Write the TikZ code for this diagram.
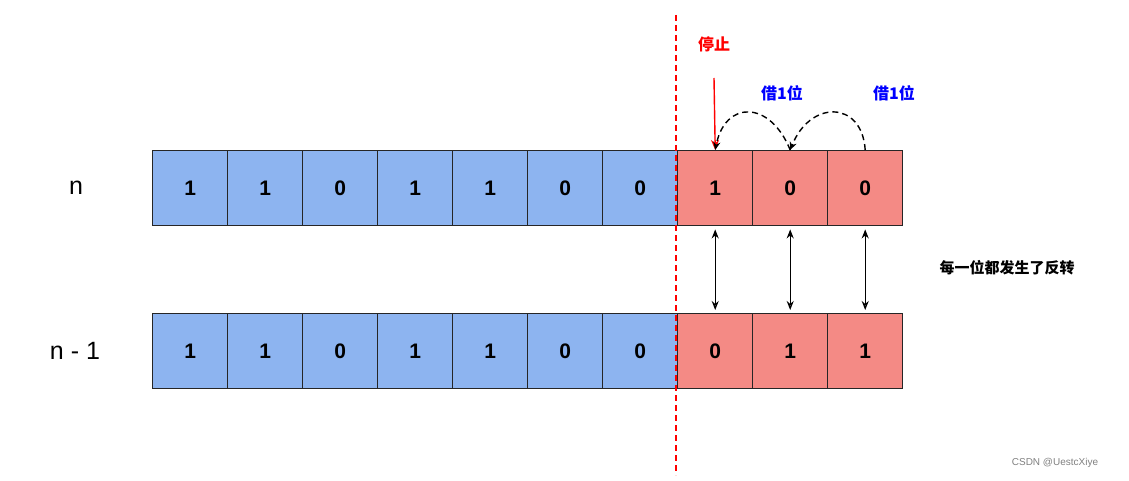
\documentclass[tikz,border=0pt]{standalone}
\usepackage{fontspec}
\setmainfont{Liberation Sans}
\newfontfamily\cjk{Noto Sans CJK SC}
\usetikzlibrary{arrows.meta}
\definecolor{cblue}{HTML}{8DB4F0}
\definecolor{cred}{HTML}{F48A85}
\begin{document}
\begin{tikzpicture}[x=1pt,y=-1pt,
  cell/.style={draw=black!85,line width=1.4pt,minimum width=75pt,minimum height=75pt,inner sep=0pt,font=\fontsize{21}{21}\selectfont\bfseries,anchor=north west},
  cjkl/.style={font=\cjk\bfseries\fontsize{16}{16}\selectfont},
  dbl/.style={line width=1.2pt,{Stealth[length=9pt,width=7pt]}-{Stealth[open,length=9pt,width=7pt]}}]
\useasboundingbox (0,0) rectangle (1129,481);
\foreach \v [count=\i from 0] in {1,1,0,1,1,0,0,1,0,0}{
  \pgfmathsetmacro\xx{152+75*\i}
  \ifnum\i<7 \def\cc{cblue}\else\def\cc{cred}\fi
  \node[cell,fill=\cc] (a\i) at (\xx,150) {\v};
}
\foreach \v [count=\i from 0] in {1,1,0,1,1,0,0,0,1,1}{
  \pgfmathsetmacro\xx{152+75*\i}
  \ifnum\i<7 \def\cc{cblue}\else\def\cc{cred}\fi
  \node[cell,fill=\cc] (b\i) at (\xx,313) {\v};
}
\node[font=\fontsize{25}{25}\selectfont] (ln) at (76,188) {n};
\node[font=\fontsize{25}{25}\selectfont] (ln1) at (75,351) {n - 1};
\coordinate (dt) at (676,15); \coordinate (db) at (676,475);
\draw[red,dashed,line width=1.4pt,dash pattern=on 6pt off 4pt] (dt) -- (db);
\node[cjkl,red] (stop) at (714,44) {停止};
\coordinate (st) at (714,78);
\draw[red,line width=1.4pt,-{Stealth[length=10pt,width=8pt]}] (st) -- (a7.north);
\node[cjkl,blue] (j1) at (782,93) {借1位};
\node[cjkl,blue] (j2) at (894,93) {借1位};
\draw[dashed,line width=1.4pt,dash pattern=on 6pt off 4pt,-{Stealth[length=8pt,width=7pt]}] (a8.north) .. controls (770,100) and (725,100) .. (a7.north);
\draw[dashed,line width=1.4pt,dash pattern=on 6pt off 4pt,-{Stealth[length=8pt,width=7pt]}] (a9.north) .. controls (862,100) and (810,100) .. (a8.north);
\foreach \i in {7,8,9}{
  \draw[dbl] ([yshift=-3pt]a\i.south) -- ([yshift=3pt]b\i.north);
}
\node[font=\cjk\bfseries\fontsize{15}{15}\selectfont] (fz) at (1007,268) {每一位都发生了反转};
\node[gray,font=\fontsize{10}{10}\selectfont] (wm) at (1055,463) {CSDN @UestcXiye};
\end{tikzpicture}
\end{document}
